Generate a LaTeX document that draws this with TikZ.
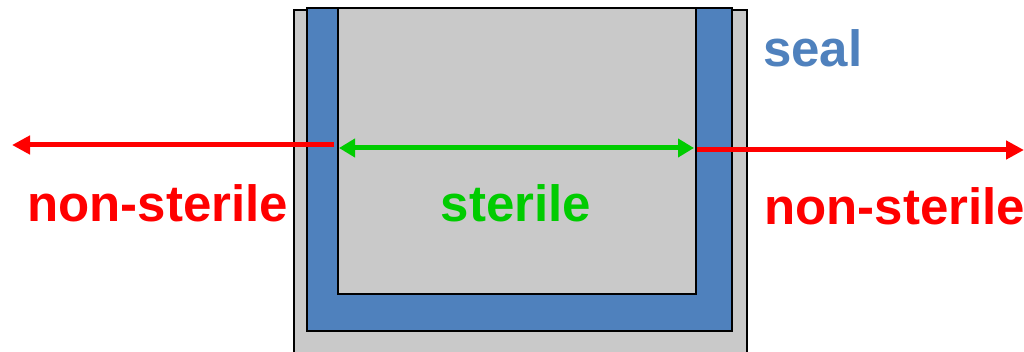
\documentclass[tikz,border=0pt]{standalone}
\usepackage{fontspec}
\setmainfont{Liberation Sans}
\usetikzlibrary{arrows.meta}
\definecolor{sealblue}{HTML}{4F81BD}
\definecolor{wallgray}{HTML}{C9C9C9}
\definecolor{redline}{HTML}{FF0000}
\definecolor{greenline}{HTML}{00CC00}
\tikzset{
  part/.style={draw=black, line width=1.6pt},
  label/.style={font=\fontsize{51}{61}\selectfont\bfseries, inner sep=0pt},
  redarrow/.style={draw=redline, line width=5pt, -{Triangle[length=18pt,width=18pt]}},
  greenarrow/.style={draw=greenline, line width=5pt, {Triangle[length=16pt,width=18pt]}-{Triangle[length=16pt,width=18pt]}},
}
\begin{document}
\begin{tikzpicture}[x=1pt,y=-1pt]
  \clip (0,0) rectangle (1024,352);
  \fill[white] (0,0) rectangle (1024,352);
  % housing
  \draw[part, fill=wallgray] (294,10) rectangle (747,370);
  % U-shaped seal
  \draw[part, fill=sealblue] (307,8) rectangle (732,331);
  % sterile chamber
  \draw[part, fill=wallgray] (338,8) rectangle (696,294);

  % arrow end points
  \coordinate (lstart) at (334,145);
  \coordinate (lend) at (12,145);
  \coordinate (gleft) at (339,148);
  \coordinate (gright) at (694,148);
  \coordinate (rstart) at (697,150);
  \coordinate (rend) at (1024,150);

  \draw[redarrow] (lstart) -- (lend);
  \draw[greenarrow] (gleft) -- (gright);
  \draw[redarrow] (rstart) -- (rend);

  % labels
  \node[label, text=sealblue, anchor=base west] (seallabel) at (763,67) {seal};
  \node[label, text=redline, anchor=base west] (nsleft) at (27,222) {non-sterile};
  \node[label, text=greenline, anchor=base] (sterile) at (516,222) {sterile};
  \node[label, text=redline, anchor=base west] (nsright) at (764,225) {non-sterile};
\end{tikzpicture}
\end{document}
